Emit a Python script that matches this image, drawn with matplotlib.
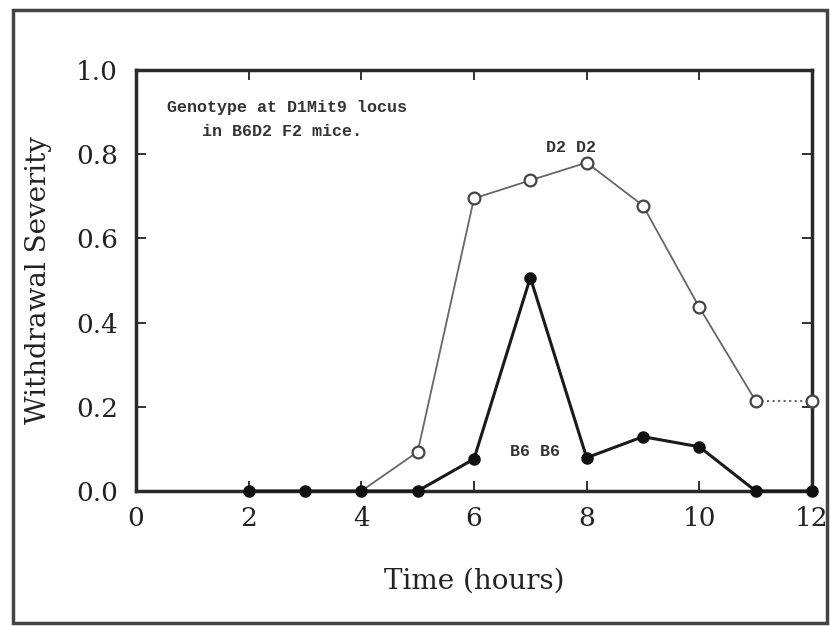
import matplotlib
matplotlib.use('Agg')
import matplotlib.pyplot as plt
from matplotlib.patches import Rectangle

# withdrawal severity by genotype
d2_hours = [4, 5, 6, 7, 8, 9, 10, 11, 12]
d2_sev = [0.0, 0.093, 0.695, 0.738, 0.78, 0.678, 0.436, 0.214, 0.214]

b6_hours = [2, 3, 4, 5, 6, 7, 8, 9, 10, 11, 12]
b6_sev = [0.0, 0.0, 0.0, 0.0, 0.076, 0.507, 0.079, 0.129, 0.105, 0.0, 0.0]

xticks = [0, 2, 4, 6, 8, 10, 12]
yticks = [0.0, 0.2, 0.4, 0.6, 0.8, 1.0]

serif = 'DejaVu Serif'
mono = 'Liberation Mono'

fig = plt.figure(figsize=(8.3, 6.26), dpi=100)
ax = fig.add_axes([136/830, 1 - 491/626, 676/830, 421/626])

# D2 D2 : solid up to 11 h, dotted last segment
ax.plot(d2_hours[:-1], d2_sev[:-1], color='#666666', lw=1.3, zorder=2)
ax.plot(d2_hours[-2:], d2_sev[-2:], color='#666666', lw=1.5, ls=':', zorder=2)
ax.plot(d2_hours[1:], d2_sev[1:], ls='none', marker='o', ms=8.5,
        mfc='white', mec='#444444', mew=1.6, zorder=5, clip_on=False)

# B6 B6
ax.plot(b6_hours, b6_sev, color='#1a1a1a', lw=2.2, marker='o', ms=8,
        mfc='#111111', mec='#111111', zorder=4, clip_on=False)

ax.set_xlim(0, 12)
ax.set_ylim(0, 1.0)
ax.set_xticks(xticks)
ax.set_yticks(yticks)
ax.set_yticklabels(['%.1f' % v for v in yticks])
ax.tick_params(direction='in', length=7, width=1.3, top=True, right=True,
               labelsize=19, colors='#222222')
ax.tick_params(axis='x', pad=11)
ax.tick_params(axis='y', pad=13)
for lab in ax.get_xticklabels() + ax.get_yticklabels():
    lab.set_family(serif)
for s in ax.spines.values():
    s.set_linewidth(2.5)
    s.set_color('#2a2a2a')

ax.set_xlabel('Time (hours)', family=serif, fontsize=20, color='#222222', labelpad=26)
ax.set_ylabel('Withdrawal Severity', family=serif, fontsize=20, color='#222222', labelpad=17)

ax.text(2.68, 0.912, 'Genotype at D1Mit9 locus', family=mono, fontweight='bold',
        fontsize=12, ha='center', va='center', color='#333333')
ax.text(2.59, 0.853, 'in B6D2 F2 mice.', family=mono, fontweight='bold',
        fontsize=12, ha='center', va='center', color='#333333')
ax.text(7.73, 0.817, 'D2 D2', family=mono, fontweight='bold', fontsize=12,
        ha='center', va='center', color='#333333')
ax.text(7.09, 0.093, 'B6 B6', family=mono, fontweight='bold', fontsize=12,
        ha='center', va='center', color='#333333')

# outer frame round the whole figure
fig.patches.append(Rectangle((13/830, 1 - 623/626), 814/830, 613/626,
                             transform=fig.transFigure, fill=False,
                             lw=2.5, ec='#444444'))

fig.savefig('out.png', dpi=100)
